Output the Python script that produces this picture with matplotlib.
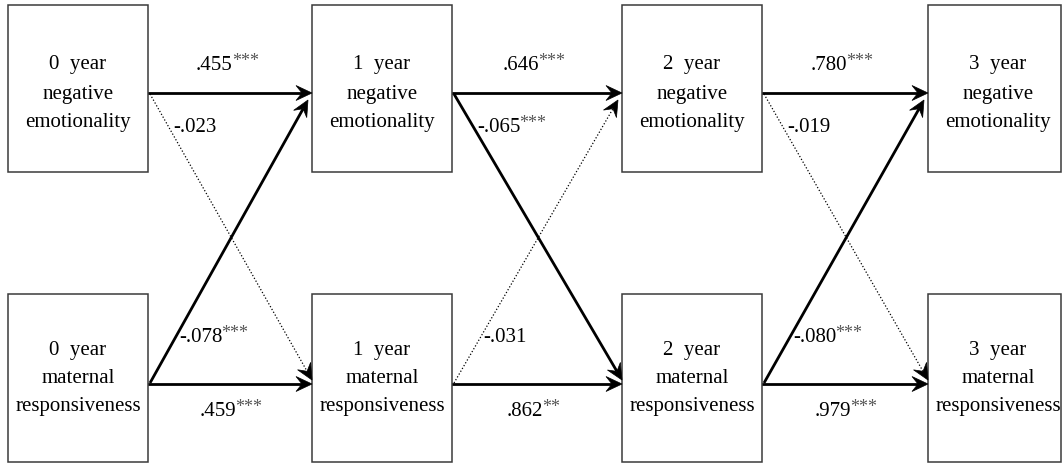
import matplotlib
matplotlib.use("Agg")
import matplotlib.pyplot as plt
from matplotlib.patches import Rectangle, Polygon
import numpy as np

# ---------------- data ----------------
ages = ['0', '1', '2', '3']
top_construct = ['negative', 'emotionality']
bottom_construct = ['maternal', 'responsiveness']

ne_stability = ['.455', '.646', '.780']
ne_stability_sig = ['***', '***', '***']
mr_stability = ['.459', '.862', '.979']
mr_stability_sig = ['***', '**', '***']

ne_to_mr = ['-.023', '-.065', '-.019']
ne_to_mr_sig = ['', '***', '']
mr_to_ne = ['-.078', '-.031', '-.080']
mr_to_ne_sig = ['***', '', '***']

# ---------------- layout ----------------
W, H = 1062, 466
fig = plt.figure(figsize=(W / 100, H / 100), dpi=100)
ax = fig.add_axes([0, 0, 1, 1])
ax.set_xlim(0, W)
ax.set_ylim(H, 0)
ax.axis('off')

FONT = 'Liberation Serif'
FS = 15
box_left = [8, 312, 622, 928]
box_w = 140
top_y0, top_y1 = 5, 172
bot_y0, bot_y1 = 294, 462
top_arrow_y = 93
bot_arrow_y = 384
cross_up_end_y = 100
cross_down_end_y = 380
edge_col = '#3a3a3a'

renderer = fig.canvas.get_renderer()


def draw_box(left, y0, y1):
    w = min(box_w, W - 1 - left)
    ax.add_patch(Rectangle((left, y0), w, y1 - y0, fill=False,
                           edgecolor=edge_col, lw=1.1))
    return left + box_w / 2


def arrow(x0, y0, x1, y1, solid):
    d = np.array([x1 - x0, y1 - y0], dtype=float)
    L = np.hypot(*d)
    u = d / L
    n = np.array([-u[1], u[0]])
    tip = np.array([x1, y1])
    hl, hw, notch = 16, 7.5, 10
    back = tip - u * hl
    p1 = back + n * hw
    p2 = back - n * hw
    pn = tip - u * notch
    if solid:
        ax.plot([x0, pn[0]], [y0, pn[1]], color='black', lw=2.0,
                solid_capstyle='butt')
    else:
        ax.plot([x0, pn[0]], [y0, pn[1]], color='black', lw=0.9,
                linestyle=(0, (1, 1.6)))
    ax.add_patch(Polygon([tip, p1, pn, p2], closed=True, facecolor='black',
                         edgecolor='black', lw=0.5))


def coef_label(x, y, num, stars):
    t = ax.text(x, y, num, fontsize=FS, family=FONT, ha='left', va='center',
                color='black')
    if stars:
        bb = t.get_window_extent(renderer=renderer)
        inv = ax.transData.inverted()
        xr, _ = inv.transform((bb.x1, bb.y0))
        ax.text(xr - 1, y - 4, stars, fontsize=13, family=FONT, ha='left',
                va='center', color='#555555')


# boxes and text
for i, age in enumerate(ages):
    cx = draw_box(box_left[i], top_y0, top_y1)
    for k, line in enumerate([f'{age}  year'] + top_construct):
        ax.text(cx, 65 + 29 * k, line, fontsize=FS, family=FONT,
                ha='center', va='center')
    draw_box(box_left[i], bot_y0, bot_y1)
    for k, line in enumerate([f'{age}  year'] + bottom_construct):
        ax.text(cx, 350 + 28.5 * k, line, fontsize=FS, family=FONT,
                ha='center', va='center')

# paths
for i in range(3):
    xr = box_left[i] + box_w
    xn = box_left[i + 1]
    gap_c = (xr + xn) / 2
    # stability paths
    arrow(xr, top_arrow_y, xn, top_arrow_y, True)
    arrow(xr, bot_arrow_y, xn, bot_arrow_y, True)
    # cross-lagged paths
    arrow(xr + 2, top_arrow_y + 1, xn, cross_down_end_y, ne_to_mr_sig[i] != '')
    arrow(xr + 2, bot_arrow_y - 1, xn - 4, cross_up_end_y, mr_to_ne_sig[i] != '')
    # labels
    coef_label(gap_c - 34, 65, ne_stability[i], ne_stability_sig[i])
    coef_label(gap_c - 30, 412, mr_stability[i], mr_stability_sig[i])
    coef_label(xr + 25, 127, ne_to_mr[i], ne_to_mr_sig[i])
    coef_label(xr + 31, 338, mr_to_ne[i], mr_to_ne_sig[i])

fig.savefig('out.png', dpi=100, facecolor='white')
